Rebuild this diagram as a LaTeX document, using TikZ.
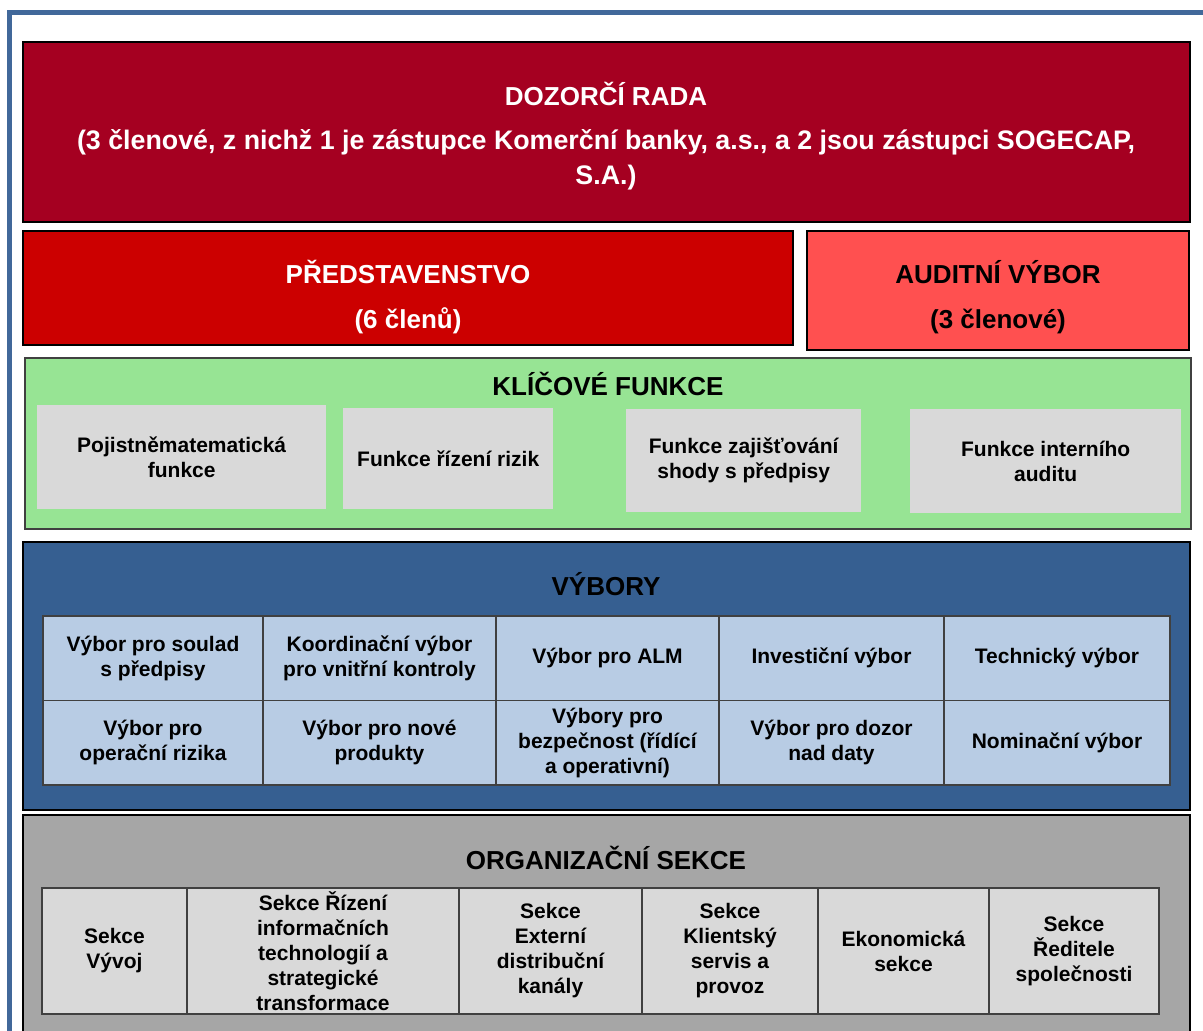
\documentclass[tikz,border=0pt]{standalone}
\usepackage{fontspec}
\setmainfont{Liberation Sans}
\usetikzlibrary{positioning}
\definecolor{frameblue}{HTML}{41689A}
\definecolor{boardred}{HTML}{A50021}
\definecolor{mgmtred}{HTML}{CC0000}
\definecolor{auditred}{HTML}{FF5050}
\definecolor{keygreen}{HTML}{97E494}
\definecolor{cellgray}{HTML}{D9D9D9}
\definecolor{cmtblue}{HTML}{365F91}
\definecolor{cmtcell}{HTML}{B8CCE4}
\definecolor{orggray}{HTML}{A6A6A6}
\definecolor{rulegray}{HTML}{404040}

\begin{document}
\begin{tikzpicture}[
    x=1pt, y=-1pt,
    panel/.style={draw=black, line width=1.2pt, anchor=north west, inner sep=0pt, outer sep=0pt},
    headtext/.style={font=\fontsize{26}{31}\selectfont\bfseries, align=center, inner sep=0pt},
    fnbox/.style={fill=cellgray, anchor=north west, inner sep=2pt, align=center, font=\fontsize{21}{25}\selectfont\bfseries},
    cmtcellbox/.style={draw=rulegray, line width=1.2pt, fill=cmtcell, minimum height=84.5pt, inner sep=2pt, outer sep=0pt, align=center, font=\fontsize{21}{25}\selectfont\bfseries},
    secbox/.style={draw=rulegray, line width=1.2pt, fill=cellgray, minimum height=126pt, inner sep=2pt, outer sep=0pt, align=center, font=\fontsize{21}{25}\selectfont\bfseries}
]
    \clip (0,0) rectangle (1203,1031);
    \draw[frameblue, line width=4.5pt] (9.5,12.5) rectangle (1230,1060);

    % dozorci rada
    \node[panel, fill=boardred, minimum width=1167pt, minimum height=180pt] (board) at (23,42) {};
    \node[headtext, white] (boardname) at (606,94) {DOZORČÍ RADA};
    \node[headtext, white, font=\fontsize{26.8}{35}\selectfont\bfseries] (boardinfo) at (606,160) {(3 členové, z nichž 1 je zástupce Komerční banky, a.s., a 2 jsou zástupci SOGECAP,\\S.A.)};

    % predstavenstvo a auditni vybor
    \node[panel, fill=mgmtred, minimum width=770pt, minimum height=114pt] (mgmt) at (23,231) {};
    \node[headtext, white] (mgmtname) at (408,272) {PŘEDSTAVENSTVO};
    \node[headtext, white] (mgmtsize) at (408,321) {(6 členů)};
    \node[panel, fill=auditred, minimum width=382pt, minimum height=119pt] (audit) at (807,231) {};
    \node[headtext] (auditname) at (998,272) {AUDITNÍ VÝBOR};
    \node[headtext] (auditsize) at (998,321) {(3 členové)};

    % klicove funkce
    \node[panel, draw=rulegray, fill=keygreen, minimum width=1166pt, minimum height=171pt] (keyfn) at (25,358) {};
    \node[headtext] (keyname) at (608,384) {KLÍČOVÉ FUNKCE};
    \node[fnbox, minimum width=289pt, minimum height=104pt] (actuary) at (37,405) {Pojistněmatematická\\funkce};
    \node[fnbox, minimum width=210pt, minimum height=101pt] (risk) at (343,408) {Funkce řízení rizik};
    \node[fnbox, minimum width=235pt, minimum height=103pt] (compliance) at (626,409) {Funkce zajišťování\\shody s předpisy};
    \node[fnbox, minimum width=271pt, minimum height=104pt] (intaudit) at (910,409) {Funkce interního\\auditu};

    % vybory
    \node[panel, fill=cmtblue, minimum width=1167pt, minimum height=268pt] (cmts) at (23,542) {};
    \node[headtext] (cmtsname) at (606,584) {VÝBORY};
    \node[cmtcellbox, anchor=north west, minimum width=220pt] (soulad) at (43,616) {Výbor pro soulad\\s předpisy};
    \node[cmtcellbox, right=0pt of soulad, minimum width=233pt] (koord) {Koordinační výbor\\pro vnitřní kontroly};
    \node[cmtcellbox, right=0pt of koord, minimum width=223pt] (alm) {Výbor pro ALM};
    \node[cmtcellbox, right=0pt of alm, minimum width=225pt] (invest) {Investiční výbor};
    \node[cmtcellbox, right=0pt of invest, minimum width=226pt] (tech) {Technický výbor};
    \node[cmtcellbox, below=0pt of soulad, minimum width=220pt] (oprisk) {Výbor pro\\operační rizika};
    \node[cmtcellbox, right=0pt of oprisk, minimum width=233pt] (products) {Výbor pro nové\\produkty};
    \node[cmtcellbox, right=0pt of products, minimum width=223pt] (security) {Výbory pro\\bezpečnost (řídící\\a operativní)};
    \node[cmtcellbox, right=0pt of security, minimum width=225pt] (datagov) {Výbor pro dozor\\nad daty};
    \node[cmtcellbox, right=0pt of datagov, minimum width=226pt] (nomin) {Nominační výbor};

    % organizacni sekce
    \node[panel, fill=orggray, minimum width=1167pt, minimum height=240pt] (org) at (23,815) {};
    \node[headtext] (orgname) at (606,858) {ORGANIZAČNÍ SEKCE};
    \node[secbox, anchor=north west, minimum width=145pt] (devel) at (42,888) {Sekce\\Vývoj};
    \node[secbox, right=0pt of devel, minimum width=272pt] (itsec) {Sekce Řízení\\informačních\\technologií a\\strategické\\transformace};
    \node[secbox, right=0pt of itsec, minimum width=183pt] (distrib) {Sekce\\Externí\\distribuční\\kanály};
    \node[secbox, right=0pt of distrib, minimum width=176pt] (client) {Sekce\\Klientský\\servis a\\provoz};
    \node[secbox, right=0pt of client, minimum width=171pt] (econ) {Ekonomická\\sekce};
    \node[secbox, right=0pt of econ, minimum width=170pt] (ceo) {Sekce\\Ředitele\\společnosti};
\end{tikzpicture}
\end{document}
